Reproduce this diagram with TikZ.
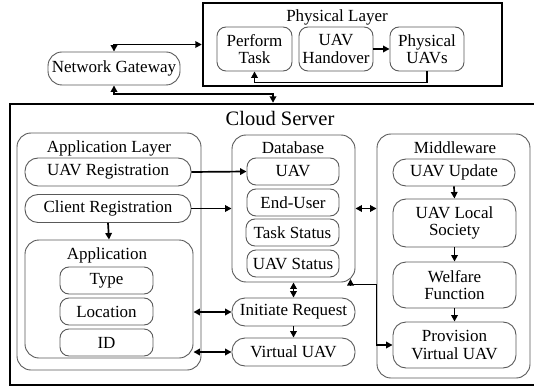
\documentclass[tikz,border=0pt]{standalone}
\usepackage{fontspec}
\setmainfont{Liberation Serif}
\usetikzlibrary{arrows.meta}
\begin{document}
\begin{tikzpicture}[x=1pt,y=-1pt,
  font=\fontsize{17}{17.5}\selectfont,
  every node/.style={inner sep=0pt, align=center},
  box/.style={draw=black!65, line width=0.9pt, rounded corners=9pt},
  group/.style={draw=black!65, line width=0.9pt, rounded corners=14pt},
  frame/.style={draw=black, line width=2.4pt},
  ttl/.style={anchor=center},
  arr/.style={line width=1.7pt, -{Triangle[length=6.5pt,width=6.5pt]}},
  darr/.style={line width=1.7pt, {Triangle[length=6.5pt,width=6.5pt]}-{Triangle[length=6.5pt,width=6.5pt]}}]
\useasboundingbox (0,0) rectangle (534,387);

% ---------- physical layer ----------
\node[frame, minimum width=299pt, minimum height=83pt] (PL) at (352.5,44.5) {};
\node[ttl] (PLt) at (337,17) {Physical Layer};
\node[box, minimum width=75pt, minimum height=44pt] (PT) at (254.5,49) {Perform\\Task};
\node[box, minimum width=74pt, minimum height=44pt] (HO) at (336,49) {UAV\\Handover};
\node[box, minimum width=74pt, minimum height=44pt] (PU) at (427,49) {Physical\\UAVs};

% ---------- network gateway ----------
\node[box, rounded corners=14pt, minimum width=132pt, minimum height=33pt] (NG) at (114,68.5) {Network Gateway};

% ---------- cloud server ----------
\node[frame, minimum width=532pt, minimum height=281pt] (CS) at (276,244.5) {};
\node[ttl, font=\fontsize{20.5}{22}\selectfont] (CSt) at (280,118) {Cloud Server};

% application layer
\node[group, minimum width=184pt, minimum height=237pt] (AL) at (109,251.5) {};
\node[ttl] (ALt) at (109,148) {Application Layer};
\node[box, rounded corners=13pt, minimum width=166pt, minimum height=28pt] (UR) at (108,172) {UAV Registration};
\node[box, rounded corners=13pt, minimum width=166pt, minimum height=28pt] (CR) at (108,208.5) {Client Registration};
\node[group, minimum width=168pt, minimum height=118pt] (AP) at (109,299) {};
\node[ttl] (APt) at (107,255) {Application};
\node[box, minimum width=93pt, minimum height=27pt] (TY) at (106.5,280.5) {Type};
\node[box, minimum width=93pt, minimum height=27pt] (LO) at (106.5,311.5) {Location};
\node[box, minimum width=93pt, minimum height=27pt] (ID) at (106.5,342.5) {ID};

% database
\node[group, minimum width=123pt, minimum height=147pt] (DB) at (293.5,208.5) {};
\node[ttl] (DBt) at (293,148) {Database};
\node[box, minimum width=92pt, minimum height=27pt] (DU) at (293,171.5) {UAV};
\node[box, minimum width=92pt, minimum height=27pt] (EU) at (293,202.5) {End-User};
\node[box, minimum width=93pt, minimum height=27pt] (TS) at (292.5,232.5) {Task Status};
\node[box, minimum width=92pt, minimum height=27pt] (US) at (293,263.5) {UAV Status};

% request / virtual UAV
\node[box, rounded corners=13pt, minimum width=123pt, minimum height=28pt] (IR) at (293.5,312) {Initiate Request};
\node[box, rounded corners=13pt, minimum width=123pt, minimum height=28pt] (VU) at (293.5,352) {Virtual UAV};

% middleware
\node[group, minimum width=153pt, minimum height=244pt] (MW) at (453.5,256) {};
\node[ttl] (MWt) at (455,148) {Middleware};
\node[box, rounded corners=13pt, minimum width=122pt, minimum height=27pt] (UP) at (454,172.5) {UAV Update};
\node[box, rounded corners=13pt, minimum width=123pt, minimum height=48pt] (LS) at (454.5,223) {UAV Local\\Society};
\node[box, rounded corners=13pt, minimum width=123pt, minimum height=46pt] (WF) at (454.5,285) {Welfare\\Function};
\node[box, rounded corners=13pt, minimum width=123pt, minimum height=46pt] (PV) at (454.5,345) {Provision\\Virtual UAV};

% ---------- connectors ----------
\draw[arr] (HO.east) -- (PU.west);
\draw[arr] (PU.south) -- ++(0,11) -| (PT.south);
\draw[darr] (NG.north) |- (PL.west);
\coordinate (gw) at (273,94);
\draw[darr] (NG.south) |- (gw) -- (gw |- CS.north);

\draw[arr] (UR.east) -- (DU.west);
\draw[arr] (CR.east) -- (CR.east -| DB.west);
\draw[arr] (CR.south) -- (AP.north);
\draw[darr] (AP.east |- IR.west) -- (IR.west);
\draw[darr] (AP.east |- VU.west) -- (VU.west);
\draw[darr] (DB.south) -- (IR.north);
\draw[arr] (IR.south) -- (VU.north);
\draw[darr] (DB.east) -- (DB.east -| MW.west);

\draw[arr] (UP.south) -- (LS.north);
\draw[arr] (LS.south) -- (WF.north);
\draw[arr] (WF.south) -- (PV.north);

\coordinate (dbc) at (350.5,284.5);
\coordinate (dbt) at (350.5,279);
\draw[darr] (dbt) -- (dbc) -| (MW.west |- PV.west) -- (PV.west);
\end{tikzpicture}
\end{document}
